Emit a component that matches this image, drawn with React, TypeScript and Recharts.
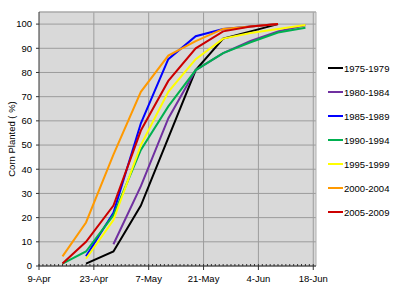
import React from 'react'
import { LineChart, Line, XAxis, YAxis, CartesianGrid, ReferenceLine, Legend } from 'recharts'

// days after 9-Apr for each weekly report
const days = [6, 12, 19, 26, 33, 40, 47, 54, 61, 68]

const p1975 = [null, 1, 6, 25, 53, 81, 94, 97, 100, null]
const p1980 = [null, null, 9, 33, 61, 81, 88, 93, 97, 99.5]
const p1985 = [null, 4, 22, 59, 85.5, 95, 98, 99, 100, null]
const p1990 = [1, 6, 21, 48, 66, 81, 88, 92.5, 96.5, 98.5]
const p1995 = [null, 3, 19, 50, 72, 85.5, 94, 96.3, 98, 99.6]
const p2000 = [4, 18, 46, 72, 87, 93, 98, 99, 100, null]
const p2005 = [1, 10, 25, 56, 76.5, 90, 97, 99, 100, null]

const xLabels = ['9-Apr', '23-Apr', '7-May', '21-May', '4-Jun', '18-Jun']
const majorDays = [0, 14, 28, 42, 56, 70]
const minorDays = Array.from({ length: 71 }, (_, i) => i)
const yTicks = [0, 10, 20, 30, 40, 50, 60, 70, 80, 90, 100]

const series = [
  { name: '1975-1979', values: p1975, color: '#000000' },
  { name: '1980-1984', values: p1980, color: '#7030a0' },
  { name: '1985-1989', values: p1985, color: '#0000ff' },
  { name: '1990-1994', values: p1990, color: '#00b050' },
  { name: '1995-1999', values: p1995, color: '#ffff00' },
  { name: '2000-2004', values: p2000, color: '#ff9900' },
  { name: '2005-2009', values: p2005, color: '#cc0000' },
]

const rows = days.map((d, i) => {
  const row: Record<string, number | null> = { day: d }
  series.forEach((s) => {
    row[s.name] = s.values[i]
  })
  return row
})

const font = '"Liberation Sans", Arial, sans-serif'
const axisColor = '#333333'
const gridColor = '#9c9c9c'

function DayTick(props: any) {
  const { x, y, payload } = props
  const idx = majorDays.indexOf(payload.value)
  if (idx < 0) {
    return <line x1={x} x2={x} y1={y} y2={y - 2} stroke={axisColor} />
  }
  return (
    <g>
      <line x1={x} x2={x} y1={y - 2} y2={y + 4} stroke={axisColor} />
      <text x={x} y={y + 16} textAnchor="middle" fontSize={9.5} fontFamily={font} fill="#000">
        {xLabels[idx]}
      </text>
    </g>
  )
}

function LegendList(props: any) {
  const { payload } = props
  return (
    <div style={{ fontFamily: font, fontSize: 9.5, color: '#000' }}>
      {payload.map((p: any) => (
        <div key={p.value} style={{ display: 'flex', alignItems: 'center', height: 24 }}>
          <span style={{ display: 'inline-block', width: 15, height: 2, background: p.color, marginRight: 1 }} />
          <span>{p.value}</span>
        </div>
      ))}
    </div>
  )
}

export default function App() {
  return (
    <div style={{ position: 'absolute', left: 0, top: 0, width: 400, height: 294, background: '#fff' }}>
      <LineChart width={400} height={294} data={rows} margin={{ top: 12, right: 84, bottom: 0, left: 0 }}>
        <CartesianGrid vertical={false} fill="#d9d9d9" stroke={gridColor} />
        {majorDays.slice(1).map((d) => (
          <ReferenceLine key={d} x={d} stroke={gridColor} />
        ))}
        <ReferenceLine x={70.7} stroke="#b0b0b0" />
        <ReferenceLine y={105} stroke="#b0b0b0" />
        <XAxis
          dataKey="day"
          type="number"
          domain={[0, 70.7]}
          ticks={minorDays}
          interval={0}
          tick={<DayTick />}
          tickLine={false}
          tickSize={0}
          tickMargin={0}
          height={28}
          stroke={axisColor}
          allowDataOverflow
        />
        <YAxis
          type="number"
          domain={[0, 105]}
          ticks={yTicks}
          interval={0}
          width={39}
          tickSize={3}
          tickMargin={4}
          stroke={axisColor}
          tick={{ fontSize: 9.5, fontFamily: font, fill: '#000' }}
          allowDataOverflow
          label={{
            content: () => (
              <text
                x={11}
                y={139}
                transform="rotate(-90 11 139)"
                textAnchor="middle"
                dominantBaseline="central"
                fontSize={9.5}
                fontFamily={font}
                fill="#000"
              >
                Corn Planted ( %)
              </text>
            ),
          }}
        />
        {series.map((s) => (
          <Line
            key={s.name}
            dataKey={s.name}
            name={s.name}
            stroke={s.color}
            strokeWidth={2}
            dot={false}
            activeDot={false}
            isAnimationActive={false}
          />
        ))}
        <Legend
          layout="vertical"
          align="center"
          verticalAlign="middle"
          content={<LegendList />}
          wrapperStyle={{ left: 328, top: 56, width: 72 }}
        />
      </LineChart>
    </div>
  )
}
